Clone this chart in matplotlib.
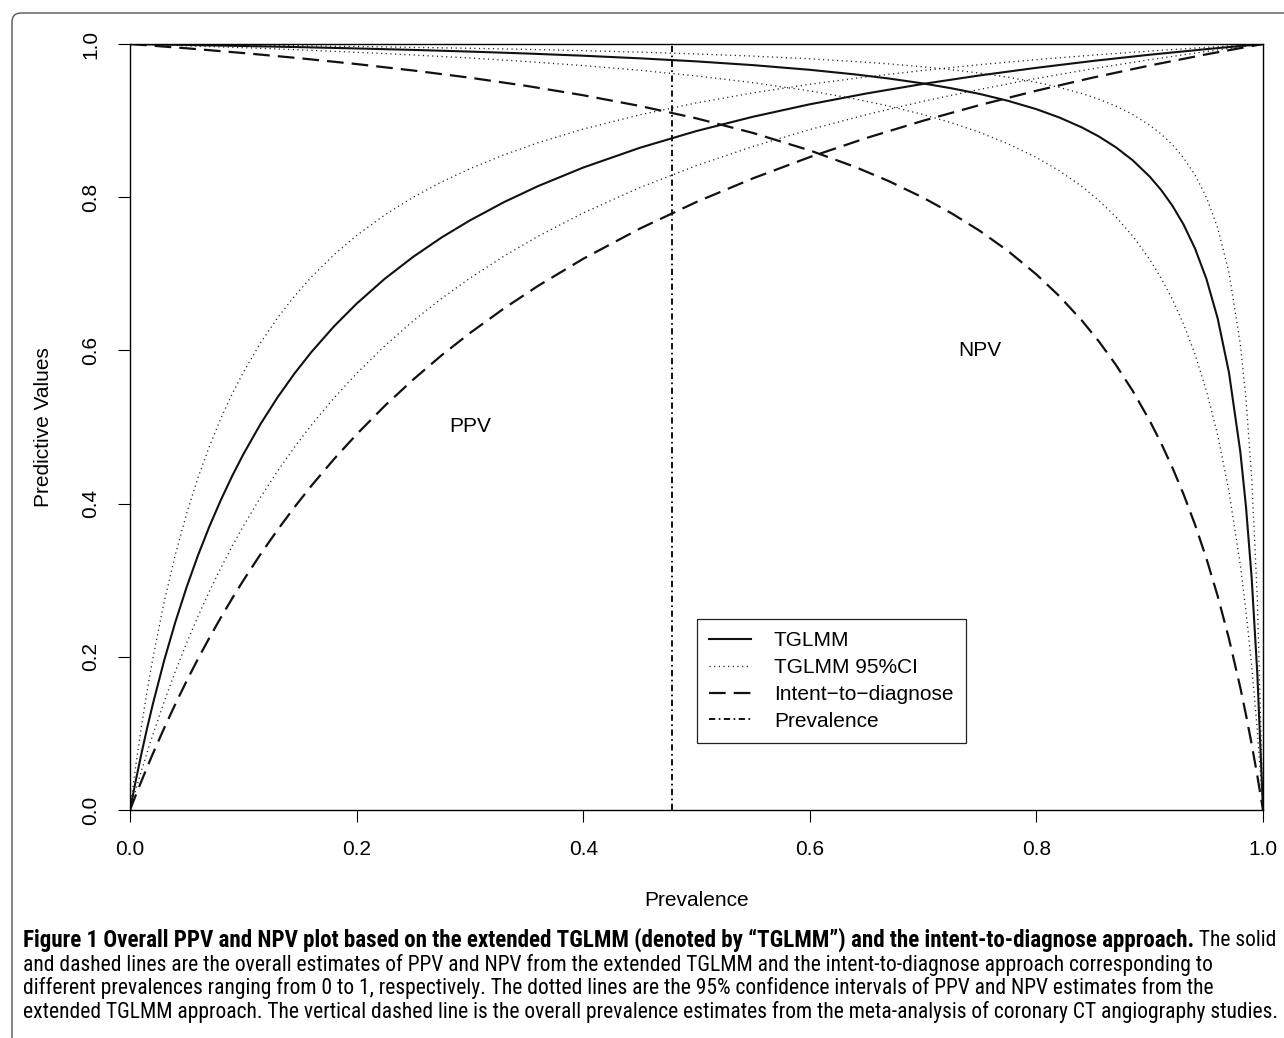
import os
import matplotlib
matplotlib.use('Agg')
import matplotlib.pyplot as plt
import matplotlib.patches as mpatches
from matplotlib.transforms import IdentityTransform
from matplotlib import font_manager
from matplotlib.font_manager import FontProperties

# PPV curves: prevalence grid (finer near 0) and values
prevalence_ppv = [0, 0.005, 0.01, 0.015, 0.02, 0.03, 0.04, 0.05, 0.06, 0.07, 0.08, 0.09, 0.1, 0.115, 0.13,
                  0.145, 0.16, 0.18, 0.2, 0.225, 0.25, 0.275, 0.3, 0.33, 0.36, 0.4, 0.45, 0.5, 0.55, 0.6,
                  0.65, 0.7, 0.75, 0.8, 0.85, 0.9, 0.95, 1.0]
ppv_tglmm = [0, 0.0377, 0.0730, 0.1062, 0.1373, 0.1944, 0.2453, 0.2910, 0.3324, 0.3699, 0.4041, 0.4355,
             0.4643, 0.5034, 0.5382, 0.5695, 0.5977, 0.6313, 0.6610, 0.6937, 0.7222, 0.7474, 0.7697,
             0.7935, 0.8144, 0.8387, 0.8645, 0.8864, 0.9051, 0.9213, 0.9354, 0.9479, 0.9590, 0.9689,
             0.9779, 0.9860, 0.9933, 1.0]
ppv_ci_upper = [0, 0.0569, 0.1081, 0.1545, 0.1967, 0.2707, 0.3333, 0.3871, 0.4337, 0.4746, 0.5106, 0.5427,
                0.5714, 0.6093, 0.6420, 0.6705, 0.6957, 0.7248, 0.75, 0.7770, 0.8, 0.8199, 0.8372,
                0.8553, 0.8710, 0.8889, 0.9076, 0.9231, 0.9362, 0.9474, 0.9571, 0.9655, 0.9730, 0.9796,
                0.9855, 0.9908, 0.9956, 1.0]
ppv_ci_lower = [0, 0.0259, 0.0508, 0.0747, 0.0976, 0.1408, 0.1809, 0.2181, 0.2528, 0.2852, 0.3155, 0.3439,
                0.3706, 0.4078, 0.4420, 0.4733, 0.5024, 0.5378, 0.5699, 0.6061, 0.6386, 0.6678, 0.6943,
                0.7230, 0.7488, 0.7794, 0.8126, 0.8413, 0.8663, 0.8883, 0.9078, 0.9252, 0.9408, 0.9550,
                0.9678, 0.9795, 0.9902, 1.0]
ppv_itd = [0, 0.0190, 0.0374, 0.0554, 0.0729, 0.1064, 0.1382, 0.1685, 0.1973, 0.2247, 0.2508, 0.2758,
           0.2996, 0.3335, 0.3652, 0.3950, 0.4231, 0.4580, 0.4904, 0.5278, 0.5620, 0.5936, 0.6226,
           0.6547, 0.6841, 0.7196, 0.7590, 0.7938, 0.8247, 0.8524, 0.8773, 0.8998, 0.9203, 0.9390,
           0.9562, 0.9719, 0.9865, 1.0]

# NPV curves: grid finer near 1
prevalence_npv = [0, 0.05, 0.1, 0.15, 0.2, 0.25, 0.3, 0.35, 0.4, 0.45, 0.5, 0.55, 0.6, 0.64, 0.67, 0.7,
                  0.725, 0.75, 0.775, 0.8, 0.82, 0.84, 0.855, 0.87, 0.885, 0.9, 0.91, 0.92, 0.93, 0.94,
                  0.95, 0.96, 0.97, 0.98, 0.985, 0.99, 0.995, 1.0]
npv_tglmm = [1.0, 0.9988, 0.9974, 0.9959, 0.9942, 0.9923, 0.9901, 0.9876, 0.9847, 0.9813, 0.9773, 0.9724,
             0.9663, 0.9603, 0.9549, 0.9485, 0.9422, 0.9348, 0.9258, 0.9149, 0.9042, 0.8912, 0.8794,
             0.8653, 0.8482, 0.8269, 0.8096, 0.7890, 0.7640, 0.7330, 0.6936, 0.6418, 0.5708, 0.4674,
             0.3957, 0.3028, 0.1777, 0]
npv_ci_upper = [1.0, 0.9993, 0.9985, 0.9977, 0.9967, 0.9956, 0.9944, 0.9930, 0.9913, 0.9894, 0.9870, 0.9842,
                0.9807, 0.9771, 0.9740, 0.9702, 0.9665, 0.9620, 0.9566, 0.95, 0.9434, 0.9354, 0.9280,
                0.9191, 0.9080, 0.8941, 0.8826, 0.8686, 0.8512, 0.8291, 0.8, 0.7600, 0.7015, 0.6080,
                0.5365, 0.4343, 0.2764, 0]
npv_ci_lower = [1.0, 0.9977, 0.9952, 0.9924, 0.9892, 0.9857, 0.9817, 0.9771, 0.9718, 0.9657, 0.9583, 0.9495,
                0.9388, 0.9283, 0.9189, 0.9079, 0.8972, 0.8846, 0.8697, 0.8519, 0.8347, 0.8142, 0.7959,
                0.7746, 0.7493, 0.7188, 0.6946, 0.6667, 0.6339, 0.5948, 0.5476, 0.4894, 0.4157, 0.3194,
                0.2594, 0.1886, 0.1036, 0]
npv_itd = [1.0, 0.9944, 0.9882, 0.9814, 0.9738, 0.9654, 0.9560, 0.9453, 0.9331, 0.9191, 0.9029, 0.8838,
           0.8611, 0.8395, 0.8208, 0.7994, 0.7791, 0.7561, 0.7297, 0.6992, 0.6712, 0.6392, 0.6120,
           0.5815, 0.5472, 0.5082, 0.4791, 0.4471, 0.4118, 0.3725, 0.3286, 0.2793, 0.2234, 0.1595,
           0.1241, 0.0859, 0.0446, 0]

overall_prevalence = 0.478
ticks = [0.0, 0.2, 0.4, 0.6, 0.8, 1.0]

caption_bold = "Figure 1 Overall PPV and NPV plot based on the extended TGLMM (denoted by \u201cTGLMM\u201d) and the intent-to-diagnose approach."
caption_lines = [" The solid",
                 "and dashed lines are the overall estimates of PPV and NPV from the extended TGLMM and the intent-to-diagnose approach corresponding to",
                 "different prevalences ranging from 0 to 1, respectively. The dotted lines are the 95% confidence intervals of PPV and NPV estimates from the",
                 "extended TGLMM approach. The vertical dashed line is the overall prevalence estimates from the meta-analysis of coronary CT angiography studies."]


def find_condensed():
    # look for a narrow sans font among the installed ones, regular + bold
    prefs = ['Liberation Sans Narrow', 'Roboto Condensed', 'Open Sans Condensed', 'Noto Sans',
             'Noto Sans Condensed', 'DejaVu Sans Condensed', 'DejaVu Sans']
    found = {}
    for f in font_manager.fontManager.ttflist:
        n = os.path.basename(f.fname)
        if ('Condensed' in n or 'Narrow' in n) and 'Semi' not in n and 'Extra' not in n \
                and 'Italic' not in n and 'Oblique' not in n and f.style == 'normal':
            w = 'bold' if (f.weight in (700, 'bold') or n.split('-')[-1].startswith('Bold')
                           or 'CondensedBold' in n.replace('-', '') and 'SemiBold' not in n) else None
            if n.split('-')[-1].startswith('Regular') or n.endswith('Condensed.ttf') or f.weight in (400, 'normal'):
                if w is None:
                    w = 'regular'
            if w:
                found.setdefault(f.name, {}).setdefault(w, f.fname)
    for p in prefs:
        if p in found and 'regular' in found[p] and 'bold' in found[p]:
            return FontProperties(fname=found[p]['regular']), FontProperties(fname=found[p]['bold'])
    return (FontProperties(family=['Liberation Sans', 'DejaVu Sans']),
            FontProperties(family=['Liberation Sans', 'DejaVu Sans'], weight='bold'))


plt.rcParams['font.family'] = ['Liberation Sans', 'DejaVu Sans']
plt.rcParams['lines.scale_dashes'] = False

W, H = 1284, 1038
FS = 15
fig = plt.figure(figsize=(W / 100, H / 100), dpi=100)
ax = fig.add_axes([130 / W, (H - 810) / H, 1133 / W, 766 / H])

solid = dict(color='#111111', lw=1.5)
dotted = dict(color='#222222', lw=0.95, dashes=(0.85, 2.5))
dashed = dict(color='#111111', lw=1.6, dashes=(12, 5.8))

ax.plot(prevalence_ppv, ppv_tglmm, label='TGLMM', **solid)
ax.plot(prevalence_npv, npv_tglmm, **solid)
ax.plot(prevalence_ppv, ppv_ci_upper, label='TGLMM 95%CI', **dotted)
ax.plot(prevalence_ppv, ppv_ci_lower, **dotted)
ax.plot(prevalence_npv, npv_ci_upper, **dotted)
ax.plot(prevalence_npv, npv_ci_lower, **dotted)
ax.plot(prevalence_ppv, ppv_itd, label='Intent\u2212to\u2212diagnose', **dashed)
ax.plot(prevalence_npv, npv_itd, **dashed)
ax.axvline(overall_prevalence, color='#111111', lw=1.4, dashes=(4.5, 2.5, 1.2, 2.5), label='Prevalence')

ax.text(0.3, 0.5, 'PPV', fontsize=FS, ha='center', va='center')
ax.text(0.75, 0.6, 'NPV', fontsize=FS, ha='center', va='center')

ax.set_xlim(0, 1)
ax.set_ylim(0, 1)
ax.set_xticks(ticks)
ax.set_yticks(ticks)
ax.set_xticklabels(['%.1f' % t for t in ticks])
ax.set_yticklabels(['%.1f' % t for t in ticks], rotation=90, va='center')
ax.tick_params(direction='out', length=8.6, width=0.8, labelsize=FS, pad=13)
for sp in ax.spines.values():
    sp.set_linewidth(1.0)
ax.set_xlabel('Prevalence', fontsize=FS, labelpad=23)
ax.set_ylabel('Predictive Values', fontsize=FS, labelpad=20)

leg = ax.legend(loc='upper left', bbox_to_anchor=(0.5, 0.25), bbox_transform=ax.transData,
                borderaxespad=0, fancybox=False, framealpha=1, edgecolor='#222222',
                fontsize=FS, handlelength=2.0, handletextpad=1.1, labelspacing=0.37, borderpad=0.62)
leg.get_frame().set_linewidth(0.9)

# rounded frame around the whole figure (only top-left corner shows)
frame = mpatches.FancyBboxPatch((12, -60), 1500, H - 13 + 60, boxstyle='round,pad=0,rounding_size=9',
                                transform=IdentityTransform(), fill=False, lw=1.0, edgecolor='#555555')
fig.add_artist(frame)

# caption, sized to fit the widths in the original
cap_reg, cap_bold = find_condensed()
renderer = fig.canvas.get_renderer()
x0 = 23 / W
target = 1279 - 23

probe = fig.text(x0, 0, caption_lines[3], fontproperties=cap_reg, fontsize=12)
fs = 12 * target / probe.get_window_extent(renderer).width
probe.remove()

line_y = [940, 965, 988, 1012]
reg = fig.text(0, 0, caption_lines[0], fontproperties=cap_reg, fontsize=fs)
w_reg = reg.get_window_extent(renderer).width
reg.remove()
b = fig.text(x0, 1 - line_y[0] / H, caption_bold, fontproperties=cap_bold, fontsize=fs, va='center')
w_b = b.get_window_extent(renderer).width
b.set_fontsize(fs * (target - w_reg) / w_b)
w_b = b.get_window_extent(renderer).width
fig.text(x0 + w_b / W, 1 - line_y[0] / H, caption_lines[0], fontproperties=cap_reg, fontsize=fs, va='center')
for txt, y in zip(caption_lines[1:], line_y[1:]):
    fig.text(x0, 1 - y / H, txt, fontproperties=cap_reg, fontsize=fs, va='center')

fig.savefig('out.png', dpi=100)
